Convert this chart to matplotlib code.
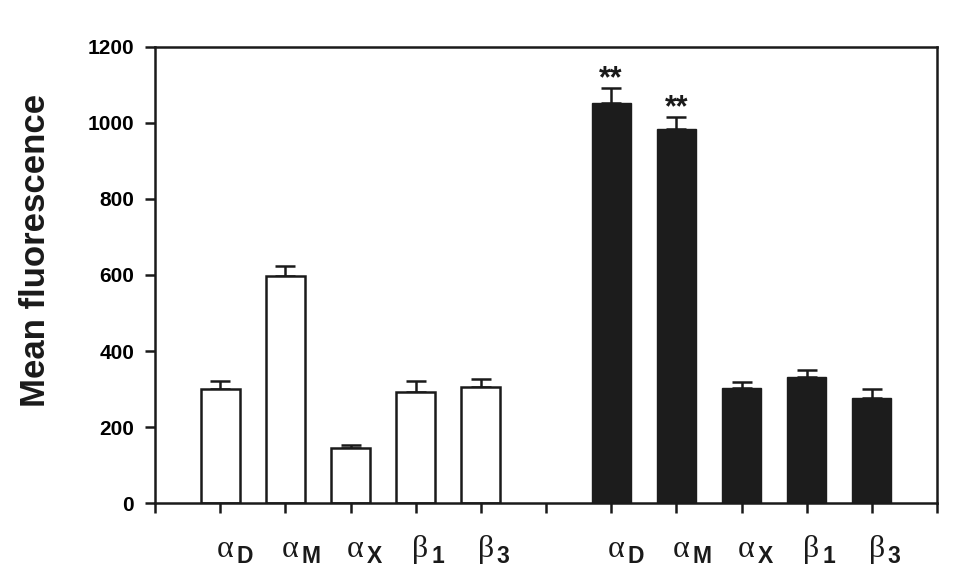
import matplotlib
matplotlib.use("Agg")
import matplotlib.pyplot as plt
from matplotlib.transforms import offset_copy

plt.rcParams['font.family'] = ['Liberation Sans', 'DejaVu Sans']

# data
greek = ['α', 'α', 'α', 'β', 'β']
subscripts = ['D', 'M', 'X', '1', '3']
control_values = [300, 597, 145, 292, 305]
control_err = [22, 26, 8, 30, 22]
treated_values = [1051, 983, 302, 333, 276]
treated_err = [40, 32, 18, 16, 25]
treated_marks = ['**', '**', '', '', '']
y_ticks = [0, 200, 400, 600, 800, 1000, 1200]

fig = plt.figure(figsize=(9.63, 5.85), dpi=100)
ax = fig.add_axes([0.161, 0.1397, 0.812, 0.7805])

n = len(greek)
pos_c = [i + 1 for i in range(n)]
pos_t = [i + 2 + n for i in range(n)]

ekw = dict(elinewidth=1.8, capthick=1.8, ecolor='#1a1a1a')
ax.bar(pos_c, control_values, width=0.6, color='white', edgecolor='#1a1a1a',
       linewidth=1.8, zorder=2)
ax.errorbar(pos_c, control_values, yerr=[[0] * n, control_err], fmt='none',
            capsize=7, zorder=1, **ekw)
ax.bar(pos_t, treated_values, width=0.6, color='#1c1c1c', edgecolor='#1c1c1c',
       linewidth=1.0, zorder=2)
ax.errorbar(pos_t, treated_values, yerr=[[0] * n, treated_err], fmt='none',
            capsize=7, zorder=1, **ekw)

star_tr = offset_copy(ax.transData, fig=fig, x=0, y=1, units='dots')
for x, v, e, m in zip(pos_t, treated_values, treated_err, treated_marks):
    if m:
        ax.text(x, v + e, m, ha='center', va='baseline', fontsize=22,
                fontweight='bold', color='#1a1a1a', transform=star_tr)

ax.set_xlim(0, 2 * n + 2)
ax.set_ylim(0, 1200)
ax.set_yticks(y_ticks)
ax.set_yticklabels([str(t) for t in y_ticks], fontsize=15, fontweight='bold')
ax.set_xticks(range(0, 2 * n + 3))
ax.set_xticklabels([])
ax.tick_params(axis='both', direction='out', width=1.8, length=7, color='#1a1a1a')
ax.tick_params(axis='y', pad=8)
for s in ax.spines.values():
    s.set_linewidth(1.8)
    s.set_color('#1a1a1a')

xt = ax.get_xaxis_transform()
g_tr = offset_copy(xt, fig=fig, x=13, y=0, units='dots')
s_tr = offset_copy(xt, fig=fig, x=16, y=-6, units='dots')
for x, g, s in zip(pos_c + pos_t, greek + greek, subscripts + subscripts):
    ax.text(x, -0.1176, g, transform=g_tr, ha='right', va='baseline', fontsize=23,
            family=['Liberation Serif', 'DejaVu Serif'], color='#1a1a1a')
    ax.text(x, -0.1176, s, transform=s_tr, ha='left', va='baseline', fontsize=16.5,
            fontweight='bold', color='#1a1a1a')

fig.text(36 / 963, 1 - 250 / 585, 'Mean fluorescence', rotation=90, ha='center',
         va='center', fontsize=25, fontweight='bold', color='#1a1a1a')

fig.savefig('out.png', dpi=100)
